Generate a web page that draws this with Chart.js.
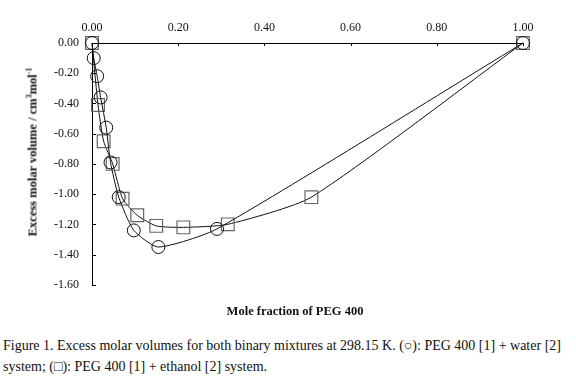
<!DOCTYPE html>
<html>
<head>
<meta charset="utf-8">
<script src="https://cdn.jsdelivr.net/npm/chart.js@4"></script>
<style>
  body { margin: 0; background: #fff; width: 576px; height: 380px; position: relative; overflow: hidden; font-family: "Liberation Serif", "DejaVu Serif", serif; color: #111; }
  #wrap { position: absolute; left: 0; top: 0; width: 576px; height: 305px; }
  .ytitle { position: absolute; left: 33px; top: 152px; transform: translate(-50%, -50%) rotate(-90deg); white-space: nowrap; font-weight: bold; font-size: 12.5px; }
  .ytitle sup { font-size: 8px; line-height: 0; }
  .xtitle { position: absolute; left: 295px; top: 311px; transform: translate(-50%, -50%); white-space: nowrap; font-weight: bold; font-size: 12.5px; }
  .caption { position: absolute; left: 3px; top: 335px; font-size: 14px; line-height: 21px; white-space: nowrap; }
</style>
</head>
<body>
<div id="wrap"><canvas id="chart" width="576" height="305"></canvas></div>
<div class="ytitle">Excess molar volume / cm<sup>3</sup>mol<sup>-1</sup></div>
<div class="xtitle">Mole fraction of PEG 400</div>
<div class="caption">Figure 1. Excess molar volumes for both binary mixtures at 298.15 K. (○): PEG 400 [1] + water [2]<br>system; (□): PEG 400 [1] + ethanol [2] system.</div>
<script>
// PEG 400 + water (circles)
const waterX = [0, 0.004, 0.012, 0.020, 0.033, 0.043, 0.062, 0.097, 0.154, 0.290, 1.0];
const waterY = [0, -0.10, -0.22, -0.36, -0.56, -0.79, -1.02, -1.24, -1.35, -1.23, 0];
// PEG 400 + ethanol (squares)
const ethanolX = [0, 0.014, 0.027, 0.048, 0.071, 0.105, 0.149, 0.212, 0.315, 0.509, 1.0];
const ethanolY = [0, -0.41, -0.65, -0.80, -1.03, -1.14, -1.21, -1.22, -1.20, -1.02, 0];

const xTicks = [0, 0.2, 0.4, 0.6, 0.8, 1.0];
const yTicks = [0, -0.2, -0.4, -0.6, -0.8, -1.0, -1.2, -1.4, -1.6];

const toPoints = (xs, ys) => xs.map((x, i) => ({ x: x, y: ys[i] }));
const tickFont = { family: '"Liberation Serif", serif', size: 12 };

// small tick marks pointing into the plot, like the original
const innerTicks = {
    id: 'innerTicks',
    afterDraw(chart) {
        const { ctx, chartArea, scales } = chart;
        ctx.save();
        ctx.strokeStyle = '#000';
        ctx.lineWidth = 1;
        ctx.beginPath();
        xTicks.forEach(v => {
            const px = Math.round(scales.x.getPixelForValue(v)) + 0.5;
            ctx.moveTo(px, chartArea.top);
            ctx.lineTo(px, chartArea.top + 3);
        });
        yTicks.forEach(v => {
            const py = Math.round(scales.y.getPixelForValue(v)) + 0.5;
            ctx.moveTo(chartArea.left, py);
            ctx.lineTo(chartArea.left + 4, py);
        });
        ctx.stroke();
        ctx.restore();
    }
};

new Chart(document.getElementById('chart'), {
    type: 'line',
    data: {
        datasets: [
            {
                label: 'PEG 400 [1] + water [2]',
                data: toPoints(waterX, waterY),
                borderColor: '#111',
                borderWidth: 1,
                tension: 0.2,
                pointStyle: 'circle',
                pointRadius: 6.5,
                pointBorderColor: '#111',
                pointBorderWidth: 1,
                pointBackgroundColor: 'rgba(0,0,0,0)'
            },
            {
                label: 'PEG 400 [1] + ethanol [2]',
                data: toPoints(ethanolX, ethanolY),
                borderColor: '#111',
                borderWidth: 1,
                tension: 0.2,
                pointStyle: 'rect',
                pointRadius: 9,
                pointBorderColor: '#666',
                pointBorderWidth: 1.2,
                pointBackgroundColor: 'rgba(0,0,0,0)'
            }
        ]
    },
    options: {
        responsive: false,
        animation: false,
        clip: false,
        layout: { padding: { left: 0, right: 53, top: 0, bottom: 7 } },
        plugins: {
            legend: { display: false },
            tooltip: { enabled: false }
        },
        scales: {
            x: {
                type: 'linear',
                position: 'top',
                min: 0,
                max: 1,
                afterFit: s => { s.height = 43; },
                afterBuildTicks: s => { s.ticks = xTicks.map(v => ({ value: v })); },
                ticks: {
                    color: '#111',
                    font: tickFont,
                    padding: 8,
                    maxRotation: 0,
                    callback: v => v.toFixed(2)
                },
                grid: { display: false, drawTicks: false },
                border: { display: true, color: '#000', width: 1 }
            },
            y: {
                type: 'linear',
                position: 'left',
                min: -1.6,
                max: 0,
                afterFit: s => { s.width = 92; },
                afterBuildTicks: s => { s.ticks = yTicks.map(v => ({ value: v })); },
                ticks: {
                    color: '#111',
                    font: tickFont,
                    padding: 13,
                    callback: v => v.toFixed(2)
                },
                grid: { display: false, drawTicks: false },
                border: { display: true, color: '#000', width: 1 }
            }
        }
    },
    plugins: [innerTicks]
});
</script>
</body>
</html>
